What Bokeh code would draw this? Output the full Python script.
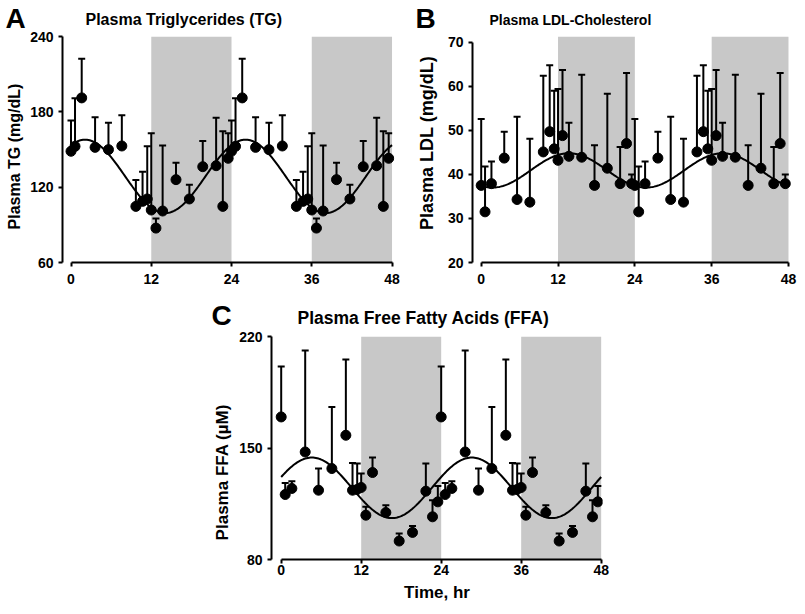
import numpy as np
from bokeh.plotting import figure
from bokeh.models import (ColumnDataSource, Whisker, TeeHead, BoxAnnotation,
                          FixedTicker, Label, Spacer, Range1d)
from bokeh.layouts import column, row
from bokeh.embed import file_html
from bokeh.resources import INLINE

FONT = "Liberation Sans"

# ---------------- data (one 24-h cycle, double-plotted) ----------------
time_hr = [0.0, 0.6, 1.6, 3.6, 5.6, 7.6, 9.7, 10.7, 11.4, 12.0,
           12.7, 13.7, 15.7, 17.7, 19.7, 21.7, 22.7, 23.5]

tg_mean = [148.6, 152.5, 191.1, 151.7, 149.9, 152.8, 104.7, 108.7, 110.6, 101.8,
           87.4, 101.0, 126.0, 110.6, 136.3, 137.1, 104.7, 143.0]
tg_sem = [24.4, 38.3, 31.1, 23.9, 21.5, 24.5, 21.0, 23.6, 41.9, 61.1,
          7.6, 52.1, 13.5, 11.4, 20.5, 38.1, 59.8, 20.0]

ldl_mean = [37.5, 31.5, 37.9, 43.7, 34.3, 33.7, 45.1, 49.7, 45.8, 43.2,
            48.8, 44.1, 43.9, 37.5, 41.4, 37.9, 47.0, 37.9]
ldl_sem = [15.1, 10.3, 5.0, 6.0, 18.8, 14.4, 17.3, 15.1, 13.2, 16.2,
           14.9, 7.6, 18.7, 9.1, 16.9, 8.3, 16.0, 2.1]

ffa_mean = [169.5, 120.8, 124.6, 147.5, 123.5, 137.1, 158.0, 123.5, 124.0, 125.2,
            107.8, 134.6, 109.5, 91.6, 97.0, 122.9, 106.8, 116.2]
ffa_sem = [31.7, 7.3, 4.5, 63.7, 13.6, 38.6, 47.6, 17.1, 16.2, 8.8,
           5.3, 9.4, 4.6, 4.8, 4.1, 17.3, 10.4, 10.0]

# cosinor fits (mesor, amplitude, acrophase in hr)
period_hr = 24
n_days = 2
tg_fit = (128.6, 29.2, 2.1)
ldl_fit = (40.9, 3.9, 13.7)
ffa_fit = (125.0, 19.0, 4.6)

# dark phases (shaded)
dark_start = [12, 36]
dark_end = [24, 48]

x_ticks = [0, 12, 24, 36, 48]
tg_ticks = [60, 120, 180, 240]
ldl_ticks = [20, 30, 40, 50, 60, 70]
ffa_ticks = [80, 150, 220]


def make_panel(mean, sem, fit, yticks, y_range, title, width, height, borders,
               x_range, title_offset, title_size, x_standoff, xlabel=None):
    left, right, top, bottom = borders
    p = figure(width=width, height=height, output_backend="svg",
               toolbar_location=None, x_range=Range1d(*x_range),
               y_range=Range1d(*y_range),
               min_border_left=left, min_border_right=right,
               min_border_top=top, min_border_bottom=bottom)
    p.outline_line_color = None
    p.grid.visible = False
    p.background_fill_color = "white"
    p.border_fill_color = "white"

    for s, e in zip(dark_start, dark_end):
        p.add_layout(BoxAnnotation(left=s, right=e, fill_color="#c8c8c8",
                                   fill_alpha=1.0, line_color=None, level="underlay"))

    t = np.array(time_hr)
    m = np.array(mean)
    se = np.array(sem)
    tt = np.concatenate([t + period_hr * d for d in range(n_days)])
    mm = np.concatenate([m for _ in range(n_days)])
    uu = np.concatenate([m + se for _ in range(n_days)])
    src = ColumnDataSource(dict(t=tt, mean=mm, upper=uu))

    p.add_layout(Whisker(source=src, base="t", upper="upper", lower="mean",
                         dimension="height", line_width=2, line_color="black",
                         upper_head=TeeHead(size=7, line_width=2, line_color="black"),
                         lower_head=None, level="underlay"))

    mesor, amp, acro = fit
    tf = np.linspace(0, period_hr * n_days, 241)
    yf = mesor + amp * np.cos(2 * np.pi * (tf - acro) / period_hr)
    p.line(tf, yf, line_width=2, line_color="black")

    p.scatter("t", "mean", source=src, size=10, color="black")

    for ax in (p.xaxis[0], p.yaxis[0]):
        ax.axis_line_width = 2
        ax.axis_line_color = "black"
        ax.major_tick_line_width = 2
        ax.major_tick_line_color = "black"
        ax.major_tick_out = 4
        ax.major_tick_in = 0
        ax.minor_tick_out = 0
        ax.minor_tick_in = 0
        ax.major_label_text_font = FONT
        ax.major_label_text_font_style = "bold"
        ax.major_label_text_font_size = "14px"
        ax.major_label_text_color = "black"
        ax.axis_label_text_font = FONT
        ax.axis_label_text_font_style = "bold"
        ax.axis_label_text_font_size = "17px"
        ax.axis_label_text_color = "black"

    p.xaxis.ticker = FixedTicker(ticks=x_ticks)
    p.xaxis.bounds = (x_ticks[0], x_ticks[-1])
    p.xaxis.major_label_standoff = x_standoff
    p.yaxis.ticker = FixedTicker(ticks=yticks)
    p.yaxis.bounds = (yticks[0], yticks[-1])
    p.yaxis.major_label_standoff = 5

    if xlabel:
        p.xaxis.axis_label = xlabel
        p.xaxis.axis_label_standoff = 5

    p.title.text = title
    p.title.align = "left"
    p.title.offset = title_offset
    p.title.vertical_align = "top"
    p.title.standoff = 14
    p.title.text_font = FONT
    p.title.text_font_style = "bold"
    p.title.text_font_size = title_size
    p.title.text_color = "black"
    return p


def text_strip(width, height, letter, letter_offset, letter_standoff,
               ylabel, ylabel_xy, ylabel_size):
    """Narrow canvas holding the panel letter (as its title) and the y-axis title."""
    f = figure(width=width, height=height, output_backend="svg",
               toolbar_location=None, x_range=Range1d(0, width),
               y_range=Range1d(0, height), min_border=0,
               x_axis_location=None, y_axis_location=None)
    f.outline_line_color = None
    f.grid.visible = False
    f.background_fill_color = "white"
    f.border_fill_color = "white"
    f.title.text = letter
    f.title.align = "left"
    f.title.offset = letter_offset
    f.title.vertical_align = "top"
    f.title.standoff = letter_standoff
    f.title.text_font = FONT
    f.title.text_font_style = "bold"
    f.title.text_font_size = "28px"
    f.title.text_color = "black"
    f.add_layout(Label(x=ylabel_xy[0], y=ylabel_xy[1], x_units="screen",
                       y_units="screen", text=ylabel, angle=np.pi / 2,
                       text_align="center", text_baseline="middle",
                       text_font=FONT, text_font_style="bold",
                       text_font_size=ylabel_size, text_color="black"))
    return f


ROW1_H = 294
ROW2_H = 312

tA = text_strip(26, ROW1_H, "A", 5, 2, "Plasma TG (mg/dL)", (13.5, 106), "16px")
pA = make_panel(tg_mean, tg_sem, tg_fit, tg_ticks, (60, 240),
                "Plasma Triglycerides (TG)", width=378, height=ROW1_H,
                borders=(36, 10, 36, 32), x_range=(-1.271, 48.37),
                title_offset=23, title_size="16px", x_standoff=7)

tB = text_strip(36, ROW1_H, "B", 11, 2, "Plasma LDL (mg/dL)", (22.5, 119.5), "18px")
pB = make_panel(ldl_mean, ldl_sem, ldl_fit, ldl_ticks, (20, 71.3),
                "Plasma LDL-Cholesterol", width=357, height=ROW1_H,
                borders=(32, 6, 36, 32), x_range=(-1.359, 48.47),
                title_offset=17, title_size="14px", x_standoff=7)

tC = text_strip(30, ROW2_H, "C", 9, 8, "Plasma FFA (\u00b5M)", (19.5, 87.3), "17px")
pC = make_panel(ffa_mean, ffa_sem, ffa_fit, ffa_ticks, (80, 220),
                "Plasma Free Fatty Acids (FFA)", width=382, height=ROW2_H,
                borders=(39, 12, 42, 47), x_range=(-1.455, 48.2),
                title_offset=26, title_size="17.5px", x_standoff=1,
                xlabel="Time, hr")

layout = column(row(tA, pA, tB, pB),
                row(Spacer(width=202, height=ROW2_H), tC, pC))

open("out.html", "w").write(file_html(layout, INLINE))
